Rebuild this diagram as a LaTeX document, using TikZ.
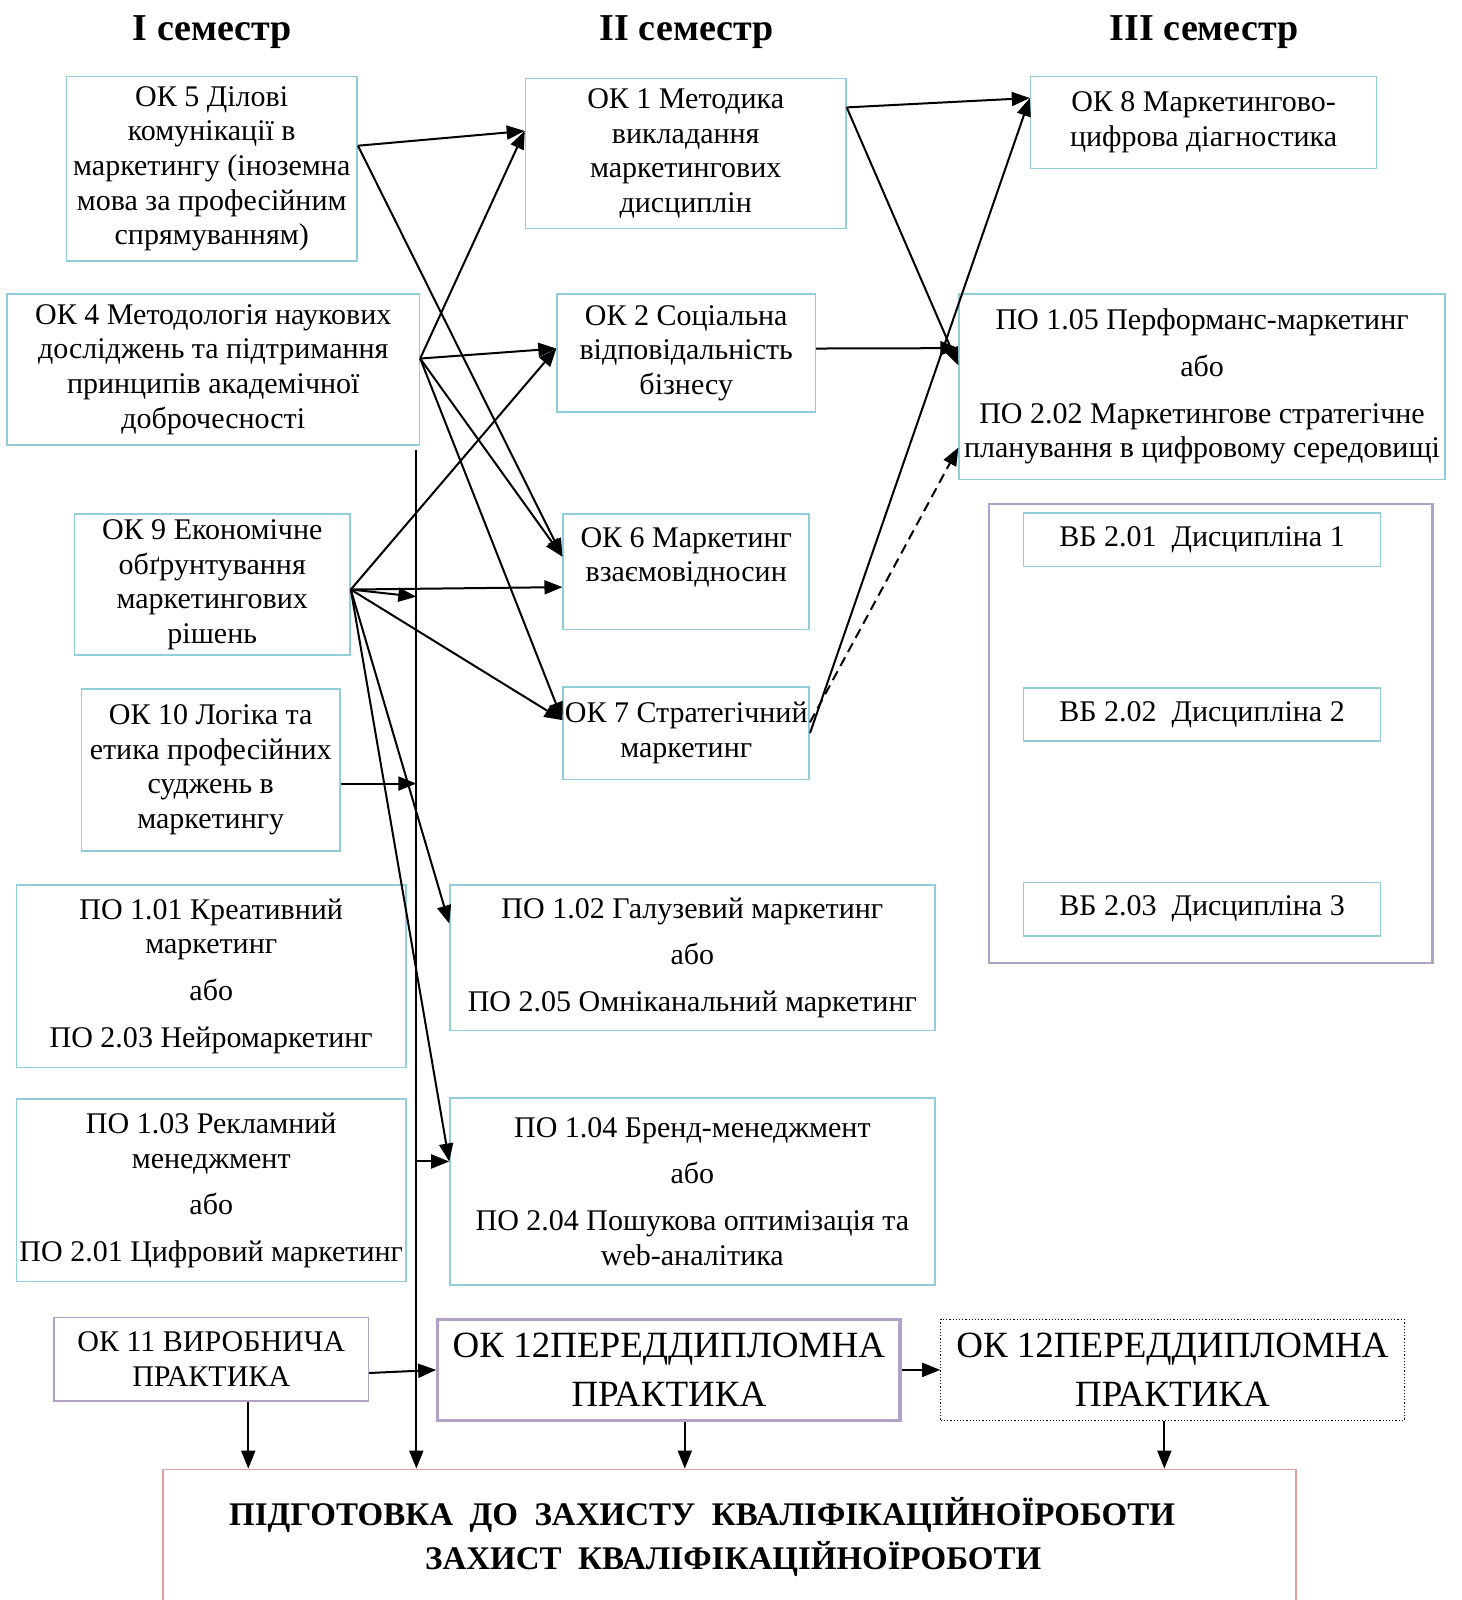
\documentclass[tikz,border=0pt]{standalone}
\usepackage{fontspec}
\setmainfont{Liberation Serif}
\usetikzlibrary{calc,arrows.meta}
\definecolor{boxblue}{RGB}{146,205,220}
\definecolor{boxlila}{RGB}{178,161,199}
\definecolor{boxrose}{RGB}{228,160,160}
\tikzset{
	corners/.style args={#1:#2:#3:#4}{at={({(#1+#3)/2},{(#2+#4)/2})},minimum width={(#3-#1)*0.5101pt},minimum height={(#4-#2)*0.5101pt}},
	box/.style={draw=boxblue,line width=0.8pt,inner sep=0pt,align=center,font=\fontsize{15}{17.3}\selectfont},
	arr/.style={-{Triangle[length=9pt,width=7pt]},line width=1pt},
}

\begin{document}
\begin{tikzpicture}[x=0.5101pt,y=-0.5101pt]
			\useasboundingbox (0,0) rectangle (1432,1568);
			% заголовки семестрів
			\foreach \t/\x in {I/208,II/673,III/1180}
			\node[font=\fontsize{19}{22}\selectfont\bfseries] (sem\t) at (\x,31) {\t\ семестр};
			
			% I семестр
			\node[box,corners=65:75:350:256] (ok5) {ОК 5 Ділові\\комунікації в\\маркетингу (іноземна\\мова за професійним\\спрямуванням)};
			\node[box,corners=7:288:411:436] (ok4) {ОК 4 Методологія наукових\\досліджень та підтримання\\принципів академічної\\доброчесності};
			\node[box,corners=73:504:343:642] (ok9) {ОК 9 Економічне\\обґрунтування\\маркетингових\\рішень};
			\node[box,corners=80:675:333:834] (ok10) {ОК 10 Логіка та\\етика професійних\\суджень в\\маркетингу};
			\node[box,corners=16:867:398:1046] (po101) {ПО 1.01 Креативний\\маркетинг\\[6pt]або\\[6pt]ПО 2.03 Нейромаркетинг};
			\node[box,corners=16:1077:398:1256] (po103) {ПО 1.03 Рекламний\\менеджмент\\[6pt]або\\[6pt]ПО 2.01 Цифровий маркетинг};
			
			% II семестр
			\node[box,corners=515:77:829:224] (ok1) {ОК 1 Методика\\викладання\\маркетингових\\дисциплін};
			\node[box,corners=546:288:799:404] (ok2) {ОК 2 Соціальна\\відповідальність\\бізнесу};
			\node[box,corners=552:504:793:617] (ok6) {ОК 6 Маркетинг\\взаємовідносин\\[0pt]\mbox{}};
			\node[box,corners=552:673:793:764] (ok7) {ОК 7 Стратегічний\\маркетинг};
			\node[box,corners=441:867:916:1010] (po102) {ПО 1.02 Галузевий маркетинг\\[6pt]або\\[6pt]ПО 2.05 Омніканальний маркетинг};
			\node[box,corners=441:1076:916:1259] (po104) {ПО 1.04 Бренд-менеджмент\\[6pt]або\\[6pt]ПО 2.04 Пошукова оптимізація та\\web-аналітика};
			
			% III семестр
			\node[box,corners=1010:75:1349:165] (ok8) {ОК 8 Маркетингово-\\цифрова діагностика};
			\node[box,corners=940:288:1416:470] (po105) {ПО 1.05 Перформанс-маркетинг\\[6pt]або\\[6pt]ПО 2.02 Маркетингове стратегічне\\планування в цифровому середовищі};
			\node[draw=boxlila,line width=1.2pt,inner sep=0pt,corners=969:494:1404:944] (vbgroup) {};
			\foreach \i/\y in {1/529,2/700,3/891}
			\node[box,corners=1003:(\y-26):1353:(\y+26)] (vb\i) {ВБ 2.0\i\ \ Дисципліна \i};
			
			% практики та атестація
			\node[box,draw=boxlila,corners=53:1291:361:1373] (ok11) {ОК 11 ВИРОБНИЧА\\ПРАКТИКА};
			\node[box,draw=boxlila,line width=1.6pt,corners=429:1293:882:1392,font=\fontsize{18.5}{24.5}\selectfont] (ok12a) {ОК 12ПЕРЕДДИПЛОМНА\\ПРАКТИКА};
			\node[box,draw=black,line width=0.6pt,densely dotted,corners=922:1293:1376:1392,font=\fontsize{18.5}{24.5}\selectfont] (ok12b) {ОК 12ПЕРЕДДИПЛОМНА\\ПРАКТИКА};
			\node[draw=boxrose,line width=0.8pt,inner sep=0pt,corners=160:1440:1270:1574] (fin) {};
			\node[align=left,font=\fontsize{16.5}{22}\selectfont\bfseries] (fintxt) at (688,1506) {ПІДГОТОВКА~~ДО~~ЗАХИСТУ~~КВАЛІФІКАЦІЙНОЇРОБОТИ\\\hspace*{98pt}ЗАХИСТ~~КВАЛІФІКАЦІЙНОЇРОБОТИ};
			
			% зв'язки I -> II семестр
			\draw[arr] (ok5.9) -- (ok1.172);
			\draw[arr] (ok5.9) -- (ok6.173);
			\foreach \t in {ok1.172,ok2.178,ok6.173,ok7.174}
			\draw[arr] (ok4.3) -- (\t);
			\foreach \t in {ok2.178,ok6.187,ok7.174,po102.172,po104.173}
			\draw[arr] (ok9.-2) -- (\t);
			
			% вертикальна лінія до атестації
			\coordinate (vtop) at ($(ok4.south)+(199,4)$);
			\draw[arr] (vtop) -- (vtop |- fin.north);
			\draw[arr] (ok9.-2) -- ($(ok9.-2 -| vtop)+(0,7)$);
			\draw[arr] (ok10.-6) -- (ok10.-6 -| vtop);
			\draw[arr] (po104.173 -| vtop) -- (po104.173);
			
			% зв'язки II -> III семестр
			\draw[arr] (ok1.16) -- (ok8.172);
			\draw[arr] (ok1.16) -- (po105.175);
			\draw[arr] (ok2.2) -- (po105.171);
			\draw[arr] (ok7.east) -- (ok8.172);
			\draw[arr,dash pattern=on 5pt off 3pt] (ok7.5) -- (po105.194);
			
			% практики
			\draw[arr] (ok11.-5) -- (ok12a.west);
			\draw[arr] (ok12a.east) -- (ok12b.west);
			\draw[arr] (ok11.-49) -- (ok11.-49 |- fin.north);
			\draw[arr] (ok12a.-73) -- (ok12a.-73 |- fin.north);
			\draw[arr] (ok12b.-99) -- (ok12b.-99 |- fin.north);
		\end{tikzpicture}
\end{document}
